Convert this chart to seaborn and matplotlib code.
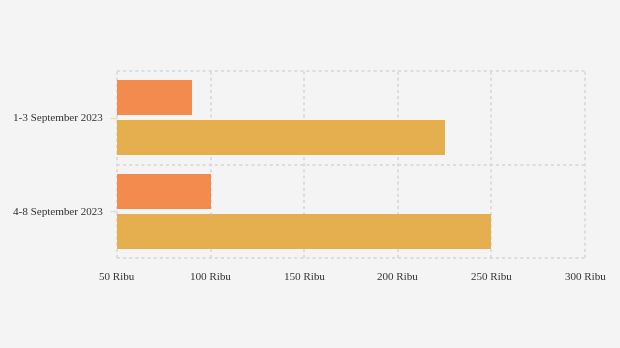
import matplotlib
matplotlib.use("Agg")
import matplotlib.pyplot as plt
from matplotlib.ticker import FixedLocator
import pandas as pd
import seaborn as sns

# Data (values in thousands)
periods = ["1-3 September 2023", "4-8 September 2023"]
series_names = ["Seri 1", "Seri 2"]
series_1 = [90, 100]
series_2 = [225, 250]
tick_values = [50, 100, 150, 200, 250, 300]
tick_labels = [f"{v} Ribu" for v in tick_values]
colors = ["#F38B4F", "#E5AF4F"]

df = pd.DataFrame({
    "period": periods * 2,
    "series": [series_names[0]] * len(periods) + [series_names[1]] * len(periods),
    "value": series_1 + series_2,
})

bg = "#F4F4F4"
sns.set_theme(style="white")
plt.rcParams["font.family"] = ["Liberation Serif", "DejaVu Serif"]

fig = plt.figure(figsize=(6.2, 3.48), dpi=100, facecolor=bg)
ax = fig.add_axes([117 / 620, 1 - 258 / 348, 468 / 620, 187 / 348])
ax.set_facecolor(bg)

sns.barplot(data=df, y="period", x="value", hue="series", orient="h",
            palette=colors, width=0.86, gap=0.125, legend=False,
            saturation=1, edgecolor="none", ax=ax, zorder=2)

ax.set_xlim(50, 300)
ax.set_ylim(1.5, -0.5)
ax.set_xticks(tick_values)
ax.set_xticklabels(tick_labels)
ax.yaxis.set_minor_locator(FixedLocator([-0.5, 0.5, 1.5]))

grid_kw = dict(color="#D6D6D6", linestyle=(0, (2, 2)), linewidth=1.1, zorder=0)
ax.grid(axis="x", which="major", **grid_kw)
ax.grid(axis="y", which="minor", **grid_kw)
ax.grid(axis="y", which="major", visible=False)
for tick in ax.yaxis.get_minor_ticks():
    tick.gridline.set_clip_on(False)
for tick in ax.xaxis.get_major_ticks():
    tick.gridline.set_clip_on(False)

for s in ax.spines.values():
    s.set_visible(False)

ax.tick_params(axis="x", which="both", length=0, pad=11, labelsize=8, labelcolor="#333333")
ax.tick_params(axis="y", which="major", length=5, width=1, color="#DDDDDD", pad=5,
               labelsize=8, labelcolor="#333333", left=True)
ax.tick_params(axis="y", which="minor", length=0)
ax.set_xlabel("")
ax.set_ylabel("")

fig.savefig("out.png", dpi=100, facecolor=bg)
